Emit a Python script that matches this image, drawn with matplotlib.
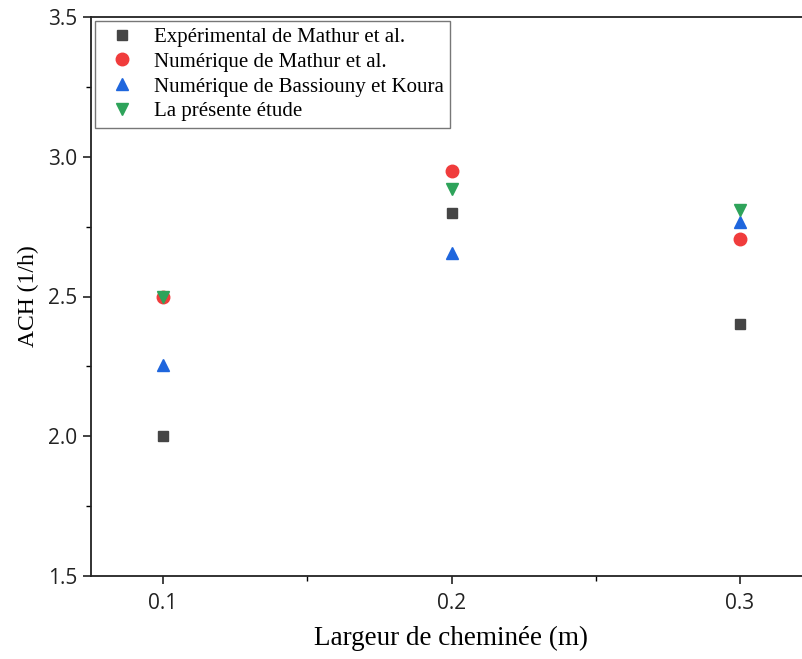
import matplotlib
matplotlib.use("Agg")
import matplotlib.pyplot as plt
from matplotlib.ticker import MultipleLocator, FormatStrFormatter

plt.rcParams['font.family'] = ['Liberation Serif', 'DejaVu Serif']

# Largeur de cheminee (m)
largeur = [0.1, 0.2, 0.3]

# ACH (1/h) for each source
exp_mathur = [2.00, 2.80, 2.40]
num_mathur = [2.50, 2.95, 2.705]
num_bassiouny = [2.255, 2.655, 2.765]
presente = [2.50, 2.885, 2.81]

fig = plt.figure(figsize=(8.03, 6.59), dpi=100)
# the right part of the frame is cut by the figure edge, as in the original
ax = fig.add_axes([91 / 803, 1 - 576 / 659, 721 / 803, 559 / 659])

ms = 9
ax.plot(largeur, exp_mathur, 's', color='#454545', ms=ms * 0.85, label='Expérimental de Mathur et al.')
ax.plot(largeur, num_mathur, 'o', color='#f03c3c', ms=ms, label='Numérique de Mathur et al.')
ax.plot(largeur, num_bassiouny, '^', color='#1f66dd', ms=ms, label='Numérique de Bassiouny et Koura')
ax.plot(largeur, presente, 'v', color='#2ea35a', ms=ms, label='La présente étude')

ax.set_xlim(0.075, 0.325)
ax.set_ylim(1.5, 3.5)
ax.xaxis.set_major_locator(MultipleLocator(0.1))
ax.xaxis.set_minor_locator(MultipleLocator(0.05))
ax.yaxis.set_major_locator(MultipleLocator(0.5))
ax.yaxis.set_minor_locator(MultipleLocator(0.25))
ax.xaxis.set_major_formatter(FormatStrFormatter('%.1f'))
ax.yaxis.set_major_formatter(FormatStrFormatter('%.1f'))
ax.tick_params(which='major', direction='out', length=6, width=1.2, labelsize=15, colors='#222222')
ax.tick_params(which='minor', direction='out', length=3.5, width=1.0)
ax.tick_params(axis='x', pad=6)
ax.tick_params(axis='y', pad=4)
for lbl in ax.get_xticklabels() + ax.get_yticklabels():
    lbl.set_family(['Open Sans', 'DejaVu Sans'])
for s in ax.spines.values():
    s.set_linewidth(1.3)
    s.set_color('#222222')

ax.set_xlabel('Largeur de cheminée (m)', fontsize=19.5, labelpad=9)
ax.set_ylabel('ACH (1/h)', fontsize=17, labelpad=6)

leg = ax.legend(loc='upper left', fontsize=15, frameon=True, fancybox=False,
                borderaxespad=0.2, handletextpad=0.5, labelspacing=0.25,
                borderpad=0.3, handlelength=2.0)
leg.get_frame().set_edgecolor('#555555')
leg.get_frame().set_linewidth(1.0)

fig.savefig('out.png', dpi=100)
